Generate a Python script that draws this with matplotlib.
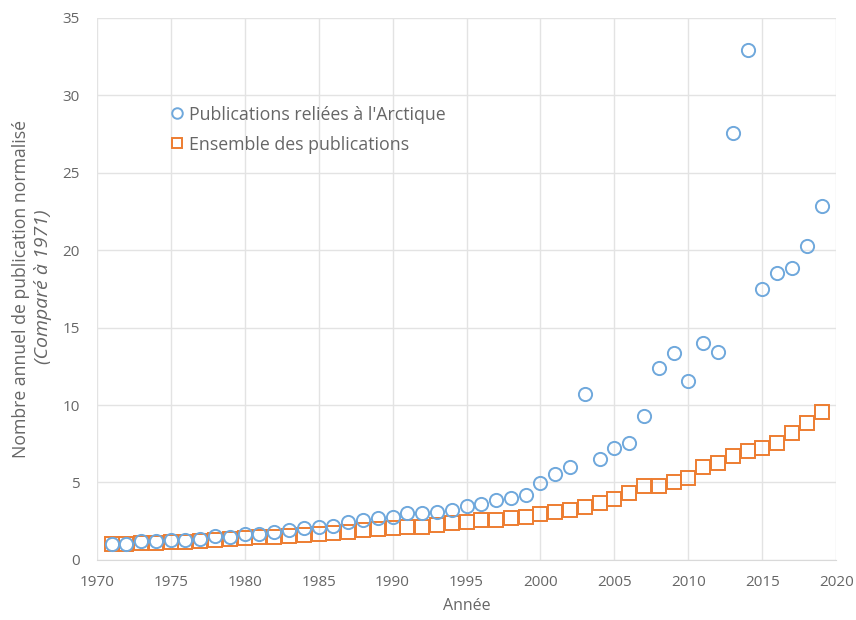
import numpy as np
import matplotlib
matplotlib.use("Agg")
import matplotlib.pyplot as plt

plt.rcParams['font.family'] = ['Open Sans', 'DejaVu Sans']

years = np.arange(1971, 2020)

arctique = [1.0, 1.05, 1.2, 1.25, 1.3, 1.3, 1.35, 1.55, 1.5, 1.7,
            1.7, 1.8, 1.95, 2.05, 2.15, 2.2, 2.45, 2.6, 2.7, 2.8,
            3.0, 3.0, 3.1, 3.2, 3.45, 3.6, 3.87, 4.0, 4.2, 4.95,
            5.55, 6.0, 10.7, 6.5, 7.2, 7.55, 9.3, 12.4, 13.35, 11.55,
            14.0, 13.4, 27.6, 32.9, 17.5, 18.5, 18.85, 20.3, 22.85]

ensemble = [1.0, 1.03, 1.07, 1.1, 1.15, 1.18, 1.22, 1.3, 1.35, 1.4,
            1.45, 1.5, 1.55, 1.6, 1.65, 1.72, 1.8, 1.9, 2.0, 2.05,
            2.1, 2.15, 2.25, 2.35, 2.45, 2.55, 2.6, 2.7, 2.75, 2.95,
            3.1, 3.2, 3.4, 3.7, 3.9, 4.3, 4.8, 4.8, 5.0, 5.3,
            6.0, 6.26, 6.7, 7.04, 7.23, 7.55, 8.2, 8.85, 9.55]

BLUE = '#6FA8DC'
ORANGE = '#ED7D31'
TXT = '#666666'

fig = plt.figure(figsize=(8.56, 6.2), dpi=100)
ax = fig.add_axes([0.113, 0.097, 0.864, 0.874])

ax.plot(years, ensemble, linestyle='none', marker='s', markersize=9.5,
        markerfacecolor='none', markeredgecolor=ORANGE, markeredgewidth=1.4,
        label='Ensemble des publications', zorder=3)
ax.plot(years, arctique, linestyle='none', marker='o', markersize=9.5,
        markerfacecolor='none', markeredgecolor=BLUE, markeredgewidth=1.4,
        label="Publications reliées à l'Arctique", zorder=4)

ax.set_xlim(1970, 2020)
ax.set_ylim(0, 35)
ax.set_xticks(np.arange(1970, 2021, 5))
ax.set_yticks(np.arange(0, 36, 5))
ax.grid(True, color='#E3E3E3', linewidth=1.0)
ax.set_axisbelow(True)
for s in ['top', 'right', 'left']:
    ax.spines[s].set_visible(False)
ax.spines['bottom'].set_color('#D9D9D9')
ax.tick_params(length=0, labelsize=11, colors=TXT)
ax.tick_params(axis='x', pad=11)
ax.tick_params(axis='y', pad=12)

ax.set_xlabel('Année', fontsize=11.5, color=TXT, labelpad=6)

# two-line y label, second line italic
fig.text(0.025, 0.534, 'Nombre annuel de publication normalisé', rotation=90,
         ha='center', va='center', fontsize=12.7, color=TXT)
fig.text(0.050, 0.537, '(Comparé à 1971)', rotation=90, style='italic',
         ha='center', va='center', fontsize=14, color=TXT)

handles, labels = ax.get_legend_handles_labels()
leg = ax.legend(handles[::-1], labels[::-1], loc='upper left',
                bbox_to_anchor=(0.076, 0.868), frameon=False, fontsize=12.8,
                handletextpad=0.25, handlelength=0.9, labelspacing=0.68,
                markerscale=0.8)
for t in leg.get_texts():
    t.set_color(TXT)

fig.savefig('out.png', dpi=100)
